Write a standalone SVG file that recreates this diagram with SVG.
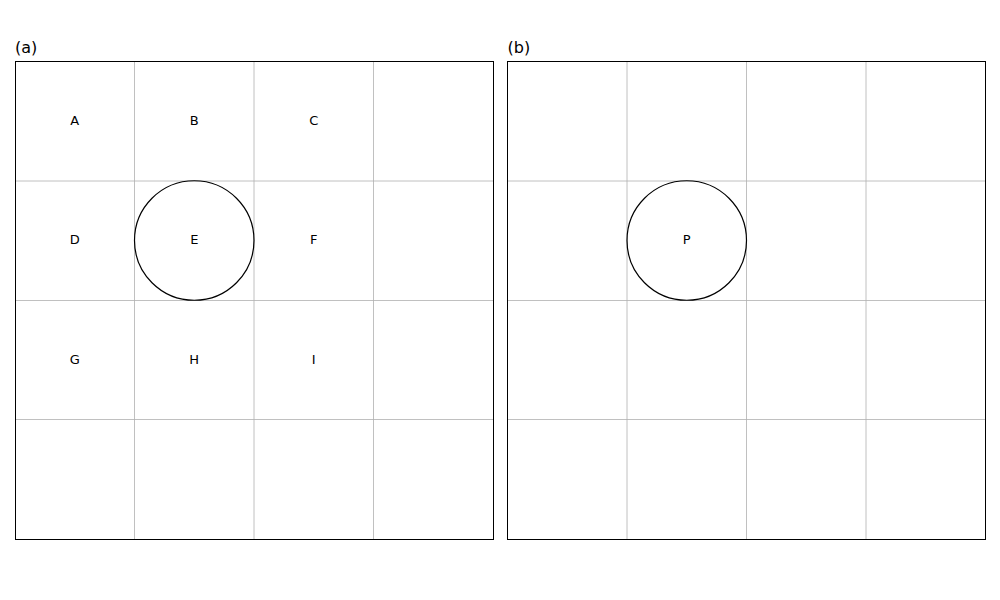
<svg xmlns="http://www.w3.org/2000/svg" width="1000" height="600" viewBox="0 0 1000 600">
<style>
.grid{stroke:#b0b0b0;stroke-width:0.8;fill:none}
.frame{stroke:#000;stroke-width:1;fill:none}
.circ{stroke:#000;stroke-width:1.2;fill:none}
.lbl{font-family:"DejaVu Sans",sans-serif;font-size:13px;fill:#000;text-anchor:middle;dominant-baseline:central}
.title{font-family:"DejaVu Sans",sans-serif;font-size:16px;fill:#000}
</style>
<rect width="1000" height="600" fill="#fff"/>
<g id="panel-a">
<text class="title" x="15" y="53">(a)</text>
<g class="grid">
<line x1="134.5" y1="61.5" x2="134.5" y2="539.5"/>
<line x1="254" y1="61.5" x2="254" y2="539.5"/>
<line x1="373.5" y1="61.5" x2="373.5" y2="539.5"/>
<line x1="15.5" y1="181" x2="493.5" y2="181"/>
<line x1="15.5" y1="300.5" x2="493.5" y2="300.5"/>
<line x1="15.5" y1="419.5" x2="493.5" y2="419.5"/>
</g>
<rect class="frame" x="15.5" y="61.5" width="478" height="478"/>
<g id="circle-E"><circle class="circ" cx="194.25" cy="240.5" r="59.75"/></g>
<g id="node-A"><text class="lbl" x="74.75" y="120">A</text></g>
<g id="node-B"><text class="lbl" x="194.25" y="120">B</text></g>
<g id="node-C"><text class="lbl" x="313.75" y="120">C</text></g>
<g id="node-D"><text class="lbl" x="74.75" y="239.5">D</text></g>
<g id="node-E"><text class="lbl" x="194.25" y="239.5">E</text></g>
<g id="node-F"><text class="lbl" x="313.75" y="239.5">F</text></g>
<g id="node-G"><text class="lbl" x="74.75" y="359">G</text></g>
<g id="node-H"><text class="lbl" x="194.25" y="359">H</text></g>
<g id="node-I"><text class="lbl" x="313.75" y="359">I</text></g>
</g>
<g id="panel-b">
<text class="title" x="507.5" y="53">(b)</text>
<g class="grid">
<line x1="627" y1="61.5" x2="627" y2="539.5"/>
<line x1="746.5" y1="61.5" x2="746.5" y2="539.5"/>
<line x1="866" y1="61.5" x2="866" y2="539.5"/>
<line x1="507.5" y1="181" x2="985.5" y2="181"/>
<line x1="507.5" y1="300.5" x2="985.5" y2="300.5"/>
<line x1="507.5" y1="419.5" x2="985.5" y2="419.5"/>
</g>
<rect class="frame" x="507.5" y="61.5" width="478" height="478"/>
<g id="circle-P"><circle class="circ" cx="686.75" cy="240.5" r="59.75"/></g>
<g id="node-P"><text class="lbl" x="686.75" y="239.5">P</text></g>
</g>
<g id="connectors"/>
</svg>
